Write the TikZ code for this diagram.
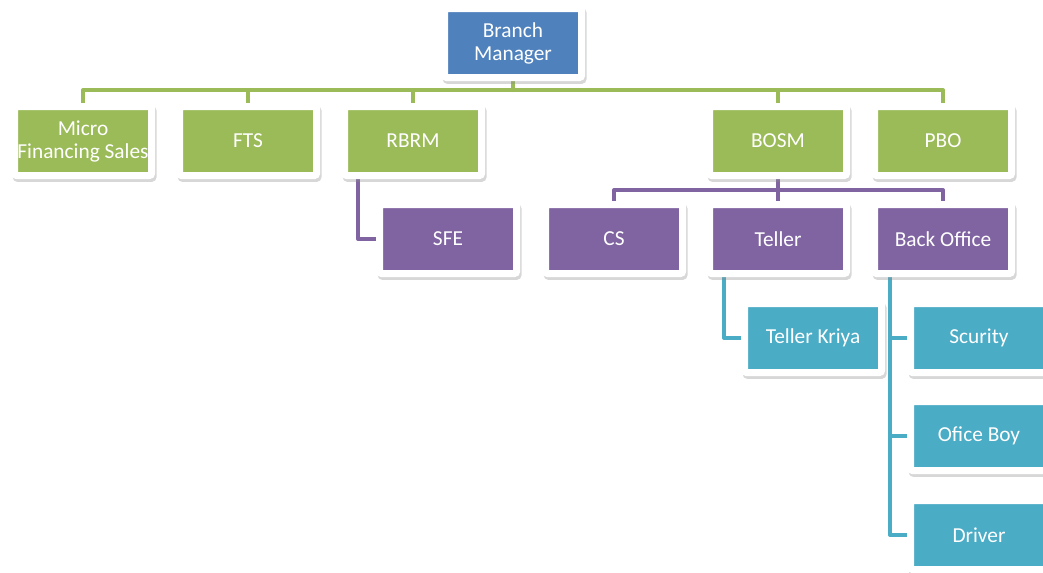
\documentclass[tikz,border=0pt]{standalone}
\usepackage{fontspec}
\setmainfont{Carlito}
\usetikzlibrary{shadows,backgrounds}
\definecolor{cblue}{HTML}{4F81BD}
\definecolor{cgreen}{HTML}{9BBB59}
\definecolor{cpurple}{HTML}{8064A2}
\definecolor{ccyan}{HTML}{4BACC6}
\tikzset{
  box/.style={minimum width=102.75pt, minimum height=51.75pt, inner sep=0pt,
    fill=#1, draw=white, line width=5.25pt, rounded corners=1.5pt,
    text=white, align=center,
    font=\fontsize{16}{17.25}\selectfont,
    drop shadow={shadow xshift=1.2pt, shadow yshift=-2.2pt, fill=black!45, draw=black!45, line width=5.25pt, opacity=0.35}},
  conn/.style={draw=#1, line width=3pt, line join=round, line cap=round}
}
\begin{document}
\begin{tikzpicture}[x=0.75pt,y=-0.75pt]
\useasboundingbox (0,0) rectangle (1043,572);
\clip (0,0) rectangle (1043,572);
% nodes
\node[box=cblue] (bm) at (513,43) {Branch\\Manager};
\node[box=cgreen] (mfs) at (83,141) {Micro\\Financing Sales};
\node[box=cgreen] (fts) at (248,141) {FTS};
\node[box=cgreen] (rbrm) at (413,141) {RBRM};
\node[box=cgreen] (bosm) at (778,141) {BOSM};
\node[box=cgreen] (pbo) at (943,141) {PBO};
\node[box=cpurple] (sfe) at (448,239) {SFE};
\node[box=cpurple] (cs) at (614,239) {CS};
\node[box=cpurple] (teller) at (778,239) {Teller};
\node[box=cpurple] (bo) at (943,239) {Back Office};
\node[box=ccyan] (tk) at (813,338) {Teller Kriya};
\node[box=ccyan] (sc) at (979,338) {Scurity};
\node[box=ccyan] (ob) at (979,436) {Ofice Boy};
\node[box=ccyan] (dr) at (979,535) {Driver};
\coordinate (gbus) at (0,90);
\coordinate (pbus) at (0,190);
\coordinate (rx) at (358,0);
\coordinate (tx) at (724,0);
\coordinate (bx) at (890,0);
\begin{pgfonlayer}{background}
\draw[conn=cgreen] (bm.south) -- (bm.south |- gbus);
\foreach \n in {mfs,fts,rbrm,bosm,pbo}
  \draw[conn=cgreen] (bm.south |- gbus) -| (\n.north);
\draw[conn=cpurple] (bosm.south) -- (bosm.south |- pbus);
\foreach \n in {cs,teller,bo}
  \draw[conn=cpurple] (bosm.south |- pbus) -| (\n.north);
\draw[conn=cpurple] (rbrm.south -| rx) |- (sfe.west);
\draw[conn=ccyan] (teller.south -| tx) |- (tk.west);
\foreach \n in {sc,ob,dr}
  \draw[conn=ccyan] (bo.south -| bx) |- (\n.west);
\end{pgfonlayer}
\end{tikzpicture}
\end{document}
